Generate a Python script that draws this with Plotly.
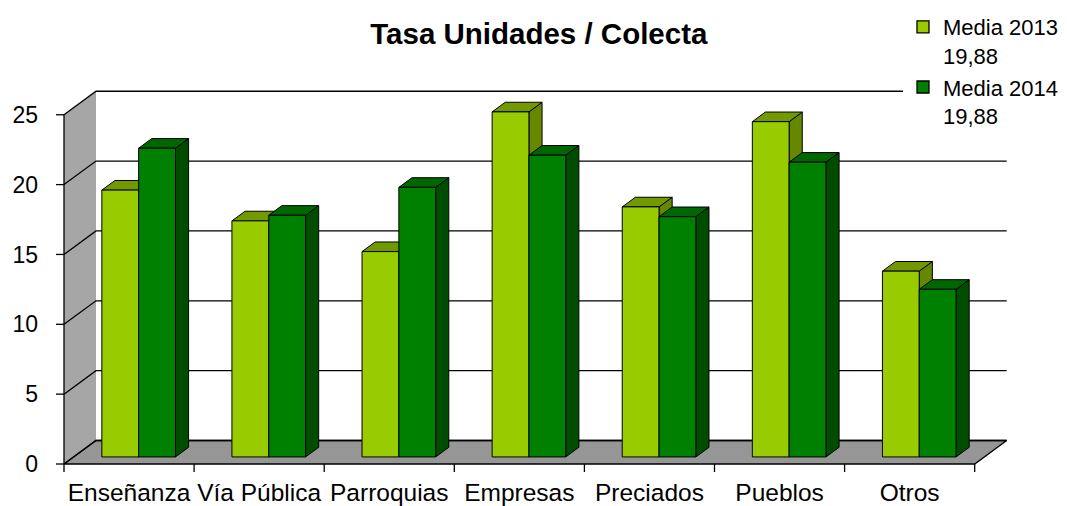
import plotly.graph_objects as go

# ---- data ----
categories = ["Enseñanza", "Vía Pública", "Parroquias", "Empresas", "Preciados", "Pueblos", "Otros"]
media_2013 = [19.1, 16.9, 14.7, 24.7, 17.9, 24.0, 13.3]
media_2014 = [22.1, 17.3, 19.3, 21.6, 17.2, 21.1, 12.0]
series_names = ["Media 2013<br>19,88", "Media 2014<br>19,88"]
y_ticks = [0, 5, 10, 15, 20, 25]
y_max = 25

# ---- styling / geometry constants ----
W, H = 1067, 506
X0, S = 64.0, 130.1      # pixel of category 0 front edge, px per category
Y0, T = 464.0, 13.97     # pixel of value 0 on the front plane, px per unit
L, R, TOP, BOT = 50, 1020, 80, 474
DXC = 32.0 / S           # full depth offset (category units)
DYV = 23.5 / T           # full depth offset (value units)
F0 = 0.30                # bar front depth fraction
FD = 0.41                # bar depth fraction
BW = 0.283               # bar width (category units)
DDX, DDY = FD * DXC, FD * DYV

colors = {
    "front": ["#99CC00", "#008000"],
    "top": ["#739900", "#006600"],
    "side": ["#668800", "#004D00"],
}
WALL, FLOOR = "#A6A6A6", "#969696"
LINE = "black"
FONT = "Liberation Sans, Arial, sans-serif"

n = len(categories)
fig = go.Figure()


def poly(xs, ys, fill, lw=1.0, lc=LINE):
    fig.add_trace(go.Scatter(
        x=list(xs) + [xs[0]], y=list(ys) + [ys[0]], mode="lines", fill="toself",
        fillcolor=fill, line=dict(color=lc, width=lw), showlegend=False,
        hoverinfo="skip"))


# side wall
poly([0, DXC, DXC, 0], [0, DYV, y_max + DYV, y_max], WALL, lw=0, lc=WALL)
# floor
poly([0, n, n + DXC, DXC], [0, 0, DYV, DYV], FLOOR, lw=1.3)

# gridlines (side wall diagonal + back wall)
gx, gy = [], []
for v in y_ticks:
    gx += [0, DXC, n + DXC, None]
    gy += [v, v + DYV, v + DYV, None]
fig.add_trace(go.Scatter(x=gx, y=gy, mode="lines", line=dict(color=LINE, width=1.3),
                         showlegend=False, hoverinfo="skip"))

# front axis line and tick marks
ax_x, ax_y = [0, 0, None], [0, y_max, None]
for v in y_ticks:
    ax_x += [-8 / S, 0, None]
    ax_y += [v, v, None]
for i in range(n + 1):
    ax_x += [i, i, None]
    ax_y += [0, -8 / T, None]
fig.add_trace(go.Scatter(x=ax_x, y=ax_y, mode="lines", line=dict(color=LINE, width=1.3),
                         showlegend=False, hoverinfo="skip"))

# 3D bars, painted left to right
series = [media_2013, media_2014]
yb = F0 * DYV
for i in range(n):
    c = i + 0.5 + F0 * DXC
    for s, vals in enumerate(series):
        xl = c - BW + s * BW
        xr = xl + BW
        yt = yb + vals[i]
        poly([xr, xr + DDX, xr + DDX, xr], [yb, yb + DDY, yt + DDY, yt], colors["side"][s])
        poly([xl, xr, xr + DDX, xl + DDX], [yt, yt, yt + DDY, yt + DDY], colors["top"][s])
        poly([xl, xr, xr, xl], [yb, yb, yt, yt], colors["front"][s])

# legend entries
for s in range(2):
    fig.add_trace(go.Bar(x=[-5], y=[1], name=series_names[s],
                         marker=dict(color=colors["front"][s], line=dict(color=LINE, width=1.3))))

fig.update_layout(
    width=W, height=H,
    margin=dict(l=L, r=W - R, t=TOP, b=H - BOT, pad=0, autoexpand=False),
    paper_bgcolor="white", plot_bgcolor="white",
    font=dict(family=FONT, color="black"),
    title=dict(text="<b>Tasa Unidades / Colecta</b>", x=0.505, xanchor="center",
               y=1 - 34 / H, yanchor="middle", font=dict(size=29.5, family=FONT, color="black")),
    showlegend=True,
    legend=dict(x=(903 - L) / (R - L), xanchor="left", y=(BOT - 6) / (BOT - TOP), yanchor="top",
                bgcolor="white", borderwidth=0, font=dict(size=22, family=FONT, color="black"),
                valign="top", tracegroupgap=0),
    xaxis=dict(range=[(L - X0) / S, (R - X0) / S], showgrid=False, zeroline=False, showline=False,
               tickmode="array", tickvals=[i + 0.5 for i in range(n)], ticktext=categories,
               ticks="", tickfont=dict(size=24.5, family=FONT, color="black"), ticklabelstandoff=1,
               fixedrange=True, automargin=False),
    yaxis=dict(range=[(Y0 - BOT) / T, (Y0 - TOP) / T], showgrid=False, zeroline=False, showline=False,
               tickmode="array", tickvals=y_ticks, ticks="",
               tickfont=dict(size=23, family=FONT, color="black"), ticklabelstandoff=11,
               fixedrange=True, automargin=False),
    bargap=0,
)

fig.write_html("out.html", config={"displayModeBar": False},
               post_script="document.body.style.margin='0px';document.body.style.overflow='hidden';")
